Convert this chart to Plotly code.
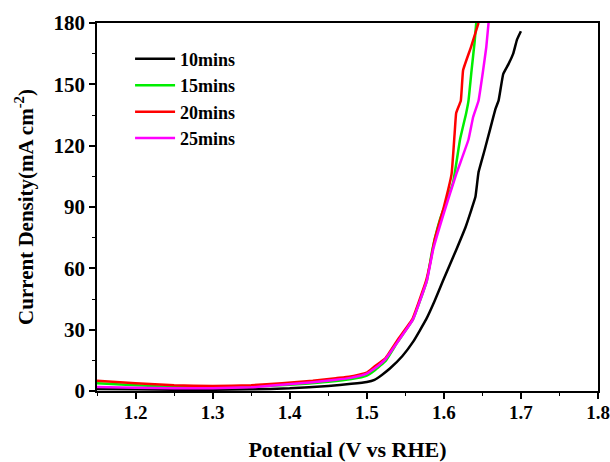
import plotly.graph_objects as go

names = ["10mins", "15mins", "20mins", "25mins"]
colors = ["#000000", "#00ee00", "#ff0000", "#ff00ff"]

x_10 = [1.15, 1.20, 1.25, 1.30, 1.35, 1.40, 1.45, 1.48, 1.50, 1.51, 1.52, 1.53, 1.546, 1.56,
        1.577, 1.588, 1.599, 1.616, 1.628, 1.636, 1.641, 1.645, 1.653, 1.660, 1.667, 1.671,
        1.677, 1.684, 1.690, 1.695, 1.700]
y_10 = [1.0, 0.8, 0.6, 0.6, 0.8, 1.3, 2.5, 3.5, 4.4, 5.5, 8.0, 11.0, 17.0, 24.0,
        35.0, 44.0, 54.0, 69.0, 80.0, 89.0, 95.0, 107.0, 118.0, 128.0, 138.0, 142.0,
        155.0, 160.0, 165.0, 172.0, 176.0]

x_15 = [1.15, 1.20, 1.25, 1.30, 1.35, 1.40, 1.45, 1.48, 1.50, 1.51, 1.525, 1.54, 1.56,
        1.578, 1.585, 1.595, 1.612, 1.621, 1.629, 1.632, 1.636, 1.640, 1.642]
y_15 = [3.8, 2.8, 2.0, 1.8, 2.2, 3.0, 4.5, 5.8, 7.5, 10.0, 15.0, 24.0, 35.0,
        54.0, 69.0, 84.0, 102.0, 123.0, 136.0, 142.0, 157.0, 171.0, 180.0]

x_20 = [1.15, 1.20, 1.25, 1.30, 1.35, 1.39, 1.43, 1.46, 1.477, 1.49, 1.50, 1.51, 1.524, 1.54,
        1.559, 1.577, 1.583, 1.588, 1.600, 1.610, 1.614, 1.616, 1.622, 1.625, 1.635, 1.645]
y_20 = [5.0, 3.8, 2.8, 2.5, 2.8, 3.8, 5.0, 6.3, 7.0, 8.0, 9.0, 12.0, 16.0, 25.0,
        35.0, 54.0, 64.0, 74.0, 90.0, 106.0, 126.0, 136.0, 142.0, 157.0, 168.0, 180.0]

x_25 = [1.15, 1.20, 1.25, 1.30, 1.35, 1.39, 1.43, 1.46, 1.477, 1.49, 1.50, 1.51, 1.524, 1.54,
        1.56, 1.578, 1.586, 1.600, 1.616, 1.632, 1.638, 1.645, 1.651, 1.655, 1.658]
y_25 = [2.0, 1.6, 1.4, 1.4, 1.8, 3.0, 4.3, 5.5, 6.3, 7.3, 8.5, 11.0, 15.5, 24.0,
        35.0, 54.0, 69.0, 87.0, 106.0, 123.0, 134.0, 142.0, 157.0, 168.0, 180.0]

xs = [x_10, x_15, x_20, x_25]
ys = [y_10, y_15, y_20, y_25]

x_ticks = [1.2, 1.3, 1.4, 1.5, 1.6, 1.7, 1.8]
y_ticks = [0, 30, 60, 90, 120, 150, 180]

font_family = "Liberation Serif"

fig = go.Figure()
for n, c, xv, yv in zip(names, colors, xs, ys):
    fig.add_trace(go.Scatter(x=xv, y=yv, mode="lines", name=n,
                             line=dict(color=c, width=2.5, shape="spline", smoothing=0.3)))

axis_common = dict(
    showline=True, linecolor="black", linewidth=1.5, mirror=True,
    ticks="outside", ticklen=6, tickwidth=1.5, tickcolor="black",
    showgrid=False, zeroline=False, automargin=False,
)

fig.update_layout(
    width=610, height=462,
    margin=dict(l=97, r=12, t=23, b=71),
    paper_bgcolor="white", plot_bgcolor="white",
    xaxis=dict(range=[1.15, 1.8], tickvals=x_ticks, ticktext=[f"{v:.1f}" for v in x_ticks],
               tickfont=dict(family=font_family, size=19, color="black", weight="bold"),
               ticklabelstandoff=-3,
               minor=dict(dtick=0.05, ticks="outside", ticklen=3, tickcolor="black", tickwidth=1.2),
               title=dict(text="<b>Potential (V vs RHE)</b>",
                          font=dict(family=font_family, size=22, color="black"), standoff=22),
               **axis_common),
    yaxis=dict(range=[0, 180], tickvals=y_ticks,
               tickfont=dict(family=font_family, size=21, color="black", weight="bold"),
               minor=dict(dtick=15, ticks="outside", ticklen=3, tickcolor="black", tickwidth=1.2),
               title=dict(text="<b>Current Density(mA cm<sup>-2</sup>)</b>",
                          font=dict(family=font_family, size=21, color="black"), standoff=14),
               **axis_common),
    legend=dict(x=0.066, y=0.952, xanchor="left", yanchor="top",
                bgcolor="rgba(0,0,0,0)", tracegroupgap=0, itemwidth=40,
                font=dict(family=font_family, size=18, color="black", weight="bold")),
)

fig.write_html("out.html")
